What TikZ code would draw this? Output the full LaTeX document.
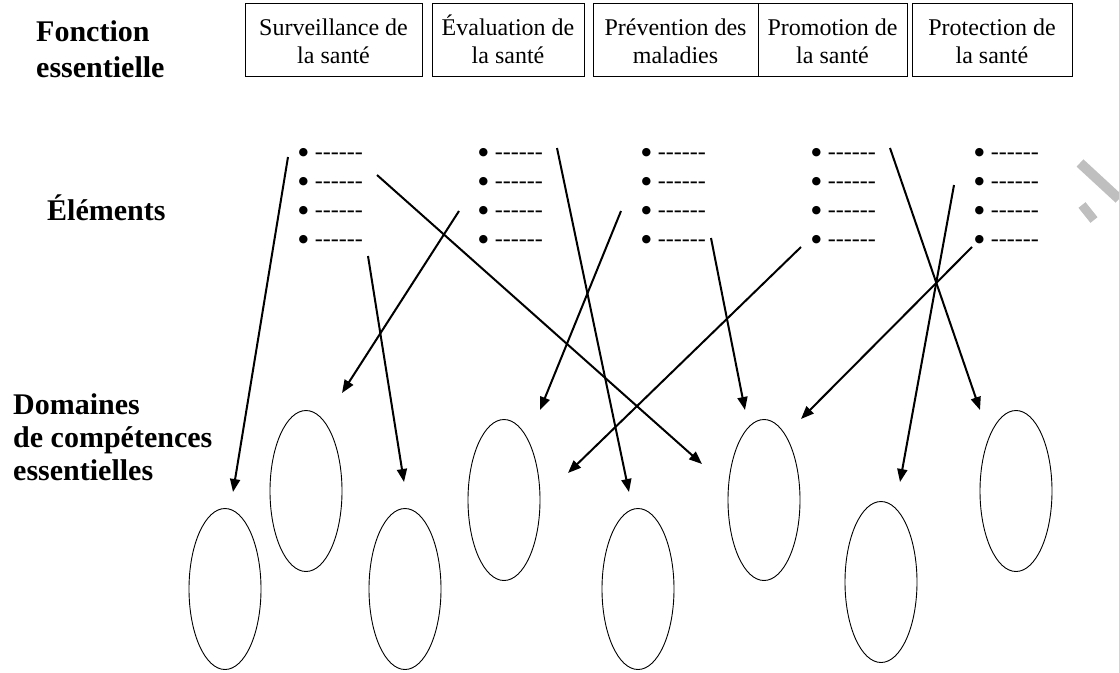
\documentclass[tikz,border=0pt]{standalone}
\usepackage{fontspec}
\setmainfont{Liberation Serif}[Ligatures=TeXOff]
\newfontfamily\symb{DejaVu Sans}
\usetikzlibrary{arrows.meta,shapes.geometric}

\newcommand{\cadre}[2]{\rule{0pt}{22pt}#1\\#2\rule[-3pt]{0pt}{3pt}}
\newcommand{\puce}{\raisebox{3.5pt}{\fontsize{11}{11}\symb ●}}

\begin{document}
\begin{tikzpicture}
    [
    x = 1pt, y = -1pt,
    fonction/.style = {draw, line width=1pt, align=center, inner sep=0pt, minimum height=73pt, font=\fontsize{24}{28}\selectfont},
    titre/.style = {anchor=base west, align=left, inner sep=0pt, font=\fontsize{30}{36}\selectfont\bfseries},
    element/.style = {anchor=base west, inner sep=0pt, text height=10pt, text depth=1pt, font=\fontsize{24}{28}\selectfont},
    domaine/.style = {draw, ellipse, line width=0.9pt, minimum width=72pt, minimum height=161pt, inner sep=0pt},
    lien/.style = {line width=2pt, -{Triangle[length=13pt,width=10pt]}},
    ]
    \tikzstyle{filigrane}=[black!25, line width=10pt]

    \useasboundingbox (0,0) rectangle (1119,672);

    \node[titre] (fonction) at (36,77) {Fonction\\essentielle};
    \node[titre] (elements) at (47,220) {Éléments};
    \node[titre, font=\fontsize{30}{33}\selectfont\bfseries] (domaines) at (13,480) {Domaines\\de compétences\\essentielles};

    \node[fonction, minimum width=177pt] (surveillance) at (333.5,39.5) {\cadre{Surveillance de}{la santé}};
    \node[fonction, minimum width=152pt] (evaluation) at (508,39.5) {\cadre{Évaluation de}{la santé}};
    \node[fonction, minimum width=165pt] (prevention) at (675.5,39.5) {\cadre{Prévention des}{maladies}};
    \node[fonction, minimum width=149pt] (promotion) at (832.5,39.5) {\cadre{Promotion de}{la santé}};
    \node[fonction, minimum width=160pt] (protection) at (992,39.5) {\cadre{Protection de}{la santé}};

    \foreach \col/\x in {1/298.5, 2/478.5, 3/641.5, 4/811.5, 5/974.5}
        \foreach \row/\y in {1/159, 2/188, 3/217, 4/246}
            \node[element] (el\col\row) at (\x,\y) {\puce\hspace{6.5pt}------};

    \node[domaine] (dom1) at (225,589) {};
    \node[domaine] (dom2) at (306,491) {};
    \node[domaine] (dom3) at (405,589) {};
    \node[domaine] (dom4) at (504,500) {};
    \node[domaine] (dom5) at (638,589) {};
    \node[domaine] (dom6) at (764,500) {};
    \node[domaine] (dom7) at (881,582) {};
    \node[domaine] (dom8) at (1016,491) {};

    \coordinate (from1) at (288,157);  \coordinate (to1) at (233,492);
    \coordinate (from2) at (377,175);  \coordinate (to2) at (702,464);
    \coordinate (from3) at (368,256);  \coordinate (to3) at (404,482);
    \coordinate (from4) at (459,211);  \coordinate (to4) at (342,393);
    \coordinate (from5) at (557,148);  \coordinate (to5) at (629,492);
    \coordinate (from6) at (621,211);  \coordinate (to6) at (540,410);
    \coordinate (from7) at (711,238);  \coordinate (to7) at (745,410);
    \coordinate (from8) at (801,247);  \coordinate (to8) at (568,473);
    \coordinate (from9) at (890,148);  \coordinate (to9) at (980,410);
    \coordinate (from10) at (954,185); \coordinate (to10) at (900,482);
    \coordinate (from11) at (972,247); \coordinate (to11) at (801,419);

    \foreach \n in {1,...,11}
        \draw[lien] (from\n) -- (to\n);

    \draw[filigrane] (1080,163) -- (1119,199);
    \draw[filigrane, line width=9pt] (1082,205) -- (1094,220);
\end{tikzpicture}
\end{document}
